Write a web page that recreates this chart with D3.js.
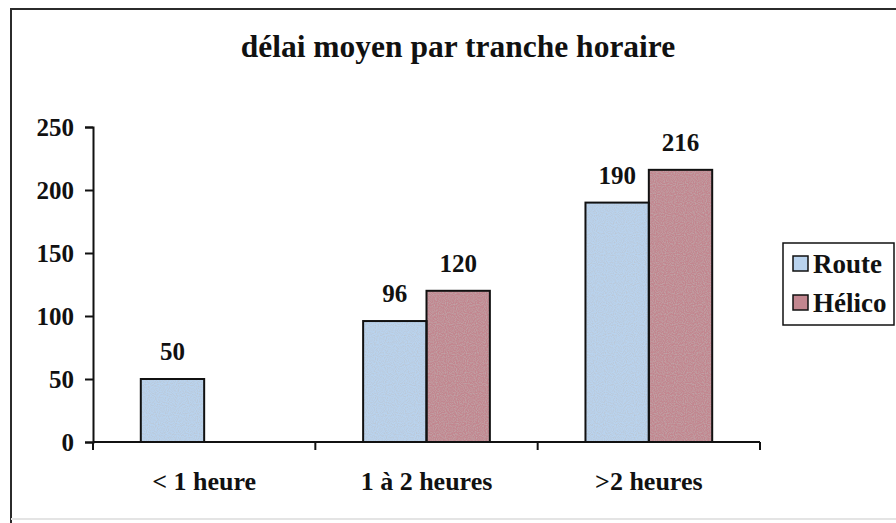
<!DOCTYPE html>
<html>
<head>
<meta charset="utf-8">
<script src="https://cdn.jsdelivr.net/npm/d3@7"></script>
<style>
  html, body { margin: 0; padding: 0; background: #ffffff; }
  svg { display: block; }
</style>
</head>
<body>
<svg id="chart" width="896" height="523"></svg>
<script>
// Delay per time slot, by transport mode
const categories = ["< 1 heure", "1 à 2 heures", ">2 heures"];
const seriesNames = ["Route", "Hélico"];
const routeValues = [50, 96, 190];
const helicoValues = [null, 120, 216];
const yTicks = [0, 50, 100, 150, 200, 250];
const title = "délai moyen par tranche horaire";

const colors = { "Route": "#b9d3ee", "Hélico": "#c2868f" };
const FONT = "'Liberation Serif', 'Times New Roman', serif";

const svg = d3.select("#chart");

// outer frame
svg.append("line").attr("x1", 10).attr("x2", 896).attr("y1", 9).attr("y2", 9)
  .attr("stroke", "#2b2b2b").attr("stroke-width", 2);
svg.append("line").attr("x1", 11).attr("x2", 11).attr("y1", 8).attr("y2", 523)
  .attr("stroke", "#2b2b2b").attr("stroke-width", 2);
svg.append("line").attr("x1", 11).attr("x2", 896).attr("y1", 519).attr("y2", 519)
  .attr("stroke", "#e4e4e4").attr("stroke-width", 2);

// speckled fills
const defs = svg.append("defs");
const noise = defs.append("filter").attr("id", "speckle")
  .attr("x", 0).attr("y", 0).attr("width", 1).attr("height", 1);
noise.append("feTurbulence").attr("type", "fractalNoise")
  .attr("baseFrequency", 0.9).attr("numOctaves", 1).attr("seed", 3).attr("result", "n");
noise.append("feColorMatrix").attr("in", "n").attr("type", "matrix")
  .attr("values", "0 0 0 0 0.5  0 0 0 0 0.5  0 0 0 0 0.5  0 0 0 -1.2 0.75").attr("result", "g");
noise.append("feComposite").attr("in", "g").attr("in2", "SourceGraphic").attr("operator", "in").attr("result", "gm");
noise.append("feMerge").selectAll("feMergeNode").data(["SourceGraphic", "gm"]).join("feMergeNode")
  .attr("in", d => d);

const x0 = d3.scaleBand().domain(categories).range([93, 760])
  .paddingInner(0.43).paddingOuter(0.215);
const x1 = d3.scaleBand().domain(seriesNames).range([0, x0.bandwidth()]);
const y = d3.scaleLinear().domain([0, 250]).range([442, 127]);

// title
svg.append("text")
  .attr("x", 458).attr("y", 57)
  .attr("text-anchor", "middle")
  .attr("font-family", FONT).attr("font-weight", "bold").attr("font-size", 31.5)
  .attr("fill", "#111").text(title);

// y axis
const yAxis = svg.append("g").attr("transform", "translate(93,0)")
  .call(d3.axisLeft(y).tickValues(yTicks).tickSize(8).tickPadding(11).tickFormat(d3.format("d")));
yAxis.select(".domain").attr("stroke", "#111").attr("stroke-width", 2);
yAxis.selectAll(".tick line").attr("stroke", "#111").attr("stroke-width", 2);
yAxis.selectAll(".tick text")
  .attr("font-family", FONT).attr("font-weight", "bold").attr("font-size", 25).attr("fill", "#111");

// x axis: ticks at category boundaries
const bounds = [93, ...categories.map(c => x0(c) + x0.bandwidth() / 2 + x0.step() / 2)];
const xg = svg.append("g");
xg.append("line").attr("x1", 93).attr("x2", 760).attr("y1", y(0)).attr("y2", y(0))
  .attr("stroke", "#111").attr("stroke-width", 2);
xg.selectAll(".xt").data(bounds).join("line").attr("class", "xt")
  .attr("x1", d => d).attr("x2", d => d).attr("y1", y(0)).attr("y2", y(0) + 8)
  .attr("stroke", "#111").attr("stroke-width", 2);
xg.selectAll(".xl").data(categories).join("text").attr("class", "xl")
  .attr("x", d => x0(d) + x0.bandwidth() / 2).attr("y", 490)
  .attr("text-anchor", "middle")
  .attr("font-family", FONT).attr("font-weight", "bold").attr("font-size", 26).attr("fill", "#111")
  .text(d => d);

// bars
const rows = categories.map((c, i) => ({
  cat: c,
  values: [
    { s: "Route", v: routeValues[i] },
    { s: "Hélico", v: helicoValues[i] }
  ].filter(d => d.v != null)
}));

const groups = svg.selectAll(".grp").data(rows).join("g").attr("class", "grp")
  .attr("transform", d => `translate(${x0(d.cat)},0)`);

groups.selectAll("rect").data(d => d.values).join("rect")
  .attr("x", d => x1(d.s)).attr("width", x1.bandwidth())
  .attr("y", d => y(d.v)).attr("height", d => y(0) - y(d.v))
  .attr("fill", d => colors[d.s]).attr("filter", "url(#speckle)");
groups.selectAll("rect.edge").data(d => d.values).join("rect").attr("class", "edge")
  .attr("x", d => x1(d.s)).attr("width", x1.bandwidth())
  .attr("y", d => y(d.v)).attr("height", d => y(0) - y(d.v))
  .attr("fill", "none").attr("stroke", "#111").attr("stroke-width", 2);

groups.selectAll("text").data(d => d.values).join("text")
  .attr("x", d => x1(d.s) + x1.bandwidth() / 2).attr("y", d => y(d.v) - 19)
  .attr("text-anchor", "middle")
  .attr("font-family", FONT).attr("font-weight", "bold").attr("font-size", 25).attr("fill", "#111")
  .text(d => d.v);

// legend
const lg = svg.append("g").attr("transform", "translate(783,243)");
lg.append("rect").attr("width", 111).attr("height", 82)
  .attr("fill", "#fff").attr("stroke", "#111").attr("stroke-width", 1.5);
const items = lg.selectAll(".li").data(seriesNames).join("g").attr("class", "li")
  .attr("transform", (d, i) => `translate(10,${13 + i * 39})`);
items.append("rect").attr("width", 15).attr("height", 15)
  .attr("fill", d => colors[d]).attr("stroke", "#111").attr("stroke-width", 1.5);
items.append("text").attr("x", 20).attr("y", 17)
  .attr("font-family", FONT).attr("font-weight", "bold").attr("font-size", 27).attr("fill", "#111")
  .text(d => d);
</script>
</body>
</html>
